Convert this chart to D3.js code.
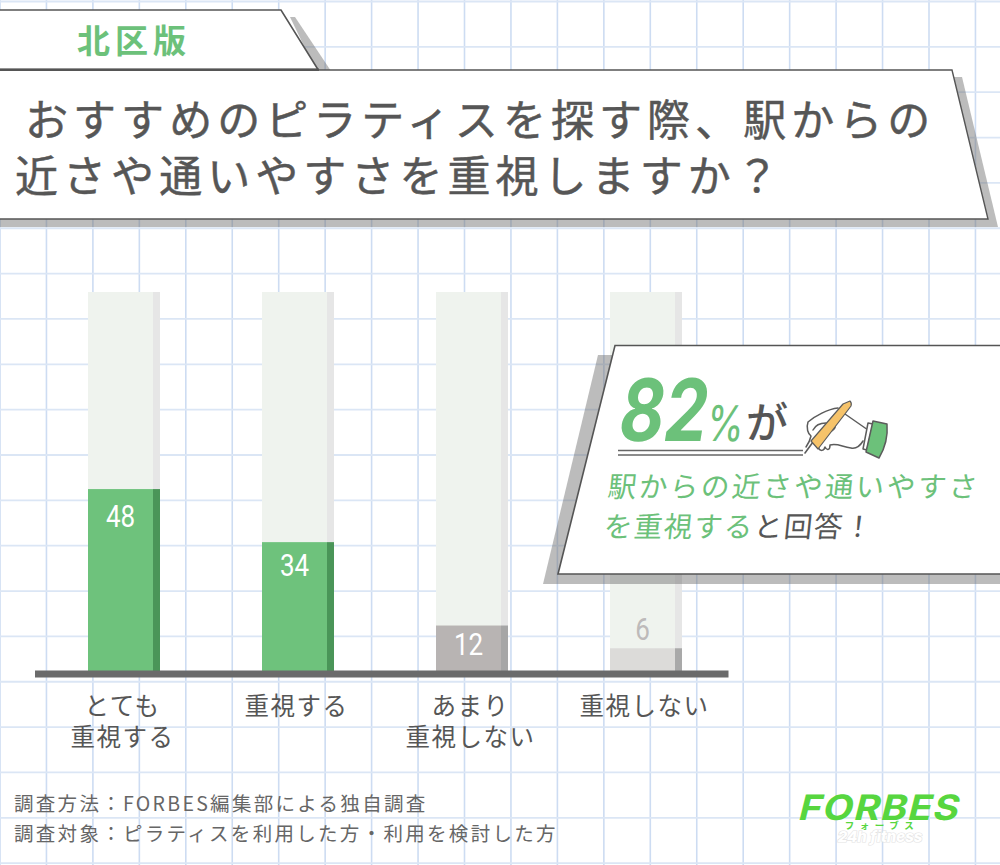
<!DOCTYPE html>
<html>
<head>
<meta charset="utf-8">
<script src="https://cdn.jsdelivr.net/npm/d3@7"></script>
<style>
    html, body { margin: 0; padding: 0; background: #fff; }
    svg { display: block; }
    text { font-family: "Noto Sans CJK JP", sans-serif; }
</style>
</head>
<body>
<div id="chart"></div>
<script>
// chart data
var categories = ["とても\n重視する", "重視する", "あまり\n重視しない", "重視しない"];
var values = [48, 34, 12, 6];
var maxValue = 100;

var titleLines = ["おすすめのピラティスを探す際、駅からの", "近さや通いやすさを重視しますか？"];
var tabLabel = "北区版";
var footnotes = ["調査方法：FORBES編集部による独自調査", "調査対象：ピラティスを利用した方・利用を検討した方"];

// colours, same order as the bars
var barColors = ["#6ec27c", "#6ec27c", "#b8b4b3", "#dcdbd9"];
var barSideColors = ["#4a9558", "#4a9558", "#a6a6a6", "#a9a9a9"];
var valueColors = ["#fff", "#fff", "#fff", "#bdbaba"];
var valueOffsets = [27, 23, 18, -19]; // label centre below the bar top

var green = "#6cc17a";
var ink = "#565656";
var w = 1000;
var h = 865;

var svg = d3.select("#chart").append("svg")
    .attr("width", w)
    .attr("height", h);

// graph paper background
var grid = svg.append("g").attr("fill", "none");
d3.range(0, 22).forEach(function (i) {
    grid.append("line")
        .attr("x1", i * 46.45).attr("x2", i * 46.45)
        .attr("y1", 0).attr("y2", h)
        .attr("stroke", "#cddcf2").attr("stroke-width", 1.6);
});
d3.range(0, 20).forEach(function (i) {
    grid.append("line")
        .attr("x1", 0).attr("x2", w)
        .attr("y1", 1.5 + i * 45.35).attr("y2", 1.5 + i * 45.35)
        .attr("stroke", "#dbe6f5").attr("stroke-width", 1.8);
});

// scales
var x = d3.scaleBand()
    .domain(categories)
    .range([88, 682])
    .paddingInner(102 / 174)
    .paddingOuter(0);
var y = d3.scaleLinear()
    .domain([0, maxValue])
    .range([671, 292]);

var sideW = 7;
var bars = svg.selectAll(".bar")
    .data(categories)
    .enter()
    .append("g")
    .attr("class", "bar");

// background track
bars.append("rect")
    .attr("x", function (d) { return x(d); })
    .attr("y", y(maxValue))
    .attr("width", x.bandwidth() - sideW)
    .attr("height", y(0) - y(maxValue))
    .attr("fill", "#eff3ee");
bars.append("rect")
    .attr("x", function (d) { return x(d) + x.bandwidth() - sideW; })
    .attr("y", y(maxValue))
    .attr("width", sideW)
    .attr("height", y(0) - y(maxValue))
    .attr("fill", "#e6e6e6");

// value bar
bars.append("rect")
    .attr("x", function (d) { return x(d); })
    .attr("y", function (d, i) { return y(values[i]); })
    .attr("width", x.bandwidth() - sideW)
    .attr("height", function (d, i) { return y(0) - y(values[i]); })
    .attr("fill", function (d, i) { return barColors[i]; });
bars.append("rect")
    .attr("x", function (d) { return x(d) + x.bandwidth() - sideW; })
    .attr("y", function (d, i) { return y(values[i]); })
    .attr("width", sideW)
    .attr("height", function (d, i) { return y(0) - y(values[i]); })
    .attr("fill", function (d, i) { return barSideColors[i]; });

// values, squeezed a bit to get the narrow digits of the original
bars.append("text")
    .attr("transform", function (d, i) {
        return "translate(" + (x(d) + (x.bandwidth() - sideW) / 2) + "," + (y(values[i]) + valueOffsets[i] + 11) + ") scale(0.84,1)";
    })
    .attr("text-anchor", "middle")
    .attr("fill", function (d, i) { return valueColors[i]; })
    .style("font-family", "Roboto")
    .style("font-size", "31px")
    .text(function (d, i) { return values[i]; });

// baseline
svg.append("rect")
    .attr("x", 35).attr("y", 670.5)
    .attr("width", 693.5).attr("height", 7)
    .attr("fill", "#6b6b6b");

// category labels
bars.each(function (d) {
    var g = d3.select(this);
    d.split("\n").forEach(function (line, i) {
        g.append("text")
            .attr("x", x(d) + x.bandwidth() / 2 - 1.5)
            .attr("y", 715 + i * 31)
            .attr("text-anchor", "middle")
            .attr("fill", ink)
            .style("font-size", "24.5px")
            .style("letter-spacing", "1.5px")
            .text(line);
    });
});

// footnotes
svg.selectAll(".note")
    .data(footnotes)
    .enter()
    .append("text")
    .attr("class", "note")
    .attr("x", 14)
    .attr("y", function (d, i) { return 811 + i * 30; })
    .attr("fill", "#666")
    .style("font-size", "19.5px")
    .style("letter-spacing", "2.3px")
    .text(function (d) { return d; });

// logo
var logo = svg.append("g");
logo.append("text")
    .attr("transform", "translate(797,820) skewX(-14) scale(1.12,1)")
    .attr("fill", "#57d63f")
    .style("font-family", "Inter")
    .style("font-weight", 700)
    .style("font-size", "35px")
    .style("letter-spacing", "1px")
    .text("FORBES");
logo.append("text")
    .attr("x", 882).attr("y", 829)
    .attr("text-anchor", "middle")
    .attr("fill", "#57d63f")
    .style("font-size", "9.5px")
    .style("font-weight", 700)
    .style("letter-spacing", "5.5px")
    .text("フォーブス");
logo.append("text")
    .attr("x", 880).attr("y", 842)
    .attr("text-anchor", "middle")
    .attr("fill", "#fff")
    .attr("stroke", "#e3e3e3")
    .attr("stroke-width", 1.2)
    .attr("paint-order", "stroke")
    .style("font-family", "Inter")
    .style("font-style", "italic")
    .style("font-weight", 800)
    .style("font-size", "15px")
    .text("24h fitness");

// header panels
var shadow = "rgba(110,110,110,0.46)";
var poly = d3.line();

svg.append("path")
    .attr("d", poly([[290, 17], [295, 17], [331, 71], [316, 71]]) + "Z")
    .attr("fill", shadow);
svg.append("path")
    .attr("d", poly([[-2, 10], [281, 10], [318, 69.5], [-2, 69.5]]) + "Z")
    .attr("fill", "#fff")
    .attr("stroke", "#555")
    .attr("stroke-width", 1.6);
svg.append("text")
    .attr("x", 77).attr("y", 53)
    .attr("fill", green)
    .style("font-size", "33px")
    .style("font-weight", 700)
    .style("letter-spacing", "5px")
    .text(tabLabel);

svg.append("path")
    .attr("d", poly([[940, 77], [962, 77], [998, 227], [-2, 227], [-2, 210]]) + "Z")
    .attr("fill", shadow);
svg.append("path")
    .attr("d", poly([[-2, 70], [952, 70], [988, 219], [-2, 219]]) + "Z")
    .attr("fill", "#fff")
    .attr("stroke", "#555")
    .attr("stroke-width", 1.4);
svg.append("rect")
    .attr("x", 0).attr("y", 68.5)
    .attr("width", 319).attr("height", 2.5)
    .attr("fill", "#555");

svg.selectAll(".title")
    .data(titleLines)
    .enter()
    .append("text")
    .attr("class", "title")
    .attr("x", function (d, i) { return i == 0 ? 25 : 15; })
    .attr("y", function (d, i) { return 136 + i * 56; })
    .attr("fill", ink)
    .attr("stroke", ink)
    .attr("stroke-width", 0.5)
    .style("font-size", "43px")
    .style("letter-spacing", "5.05px")
    .text(function (d) { return d; });

// callout
svg.append("path")
    .attr("d", poly([[598, 355], [1002, 355], [1002, 584], [543, 584]]) + "Z")
    .attr("fill", shadow);
svg.append("path")
    .attr("d", poly([[615, 345.5], [1002, 345.5], [1002, 574], [558, 574]]) + "Z")
    .attr("fill", "#fff")
    .attr("stroke", "#555")
    .attr("stroke-width", 1.6);

svg.append("text")
    .attr("transform", "translate(616,441) skewX(-9) scale(0.8,1)")
    .attr("fill", green)
    .style("font-family", "Inter")
    .style("font-weight", 700)
    .style("font-size", "86px")
    .text("82");
svg.append("text")
    .attr("transform", "translate(705,441) skewX(-6) scale(0.78,1)")
    .attr("fill", green)
    .style("font-family", "Inter")
    .style("font-weight", 400)
    .style("font-size", "49px")
    .text("%");
svg.append("text")
    .attr("transform", "translate(746,438)")
    .attr("fill", ink)
    .style("font-size", "42px")
    .style("font-weight", 500)
    .text("が");

[450.5, 455].forEach(function (ly) {
    svg.append("line")
        .attr("x1", 618).attr("x2", 803)
        .attr("y1", ly).attr("y2", ly)
        .attr("stroke", "#666").attr("stroke-width", 1.3);
});

// hand holding the pen
var hand = svg.append("g")
    .attr("fill", "none")
    .attr("stroke", "#5c5c5c")
    .attr("stroke-width", 1.5)
    .attr("stroke-linejoin", "round")
    .attr("stroke-linecap", "round");
hand.append("path")
    .attr("d", "M838,408 C828,409 815,416 808,422 C806,428 808,434 811,436 C810,441 808,444 806,447")
    .attr("fill", "#fff");
hand.append("path")
    .attr("d", "M818,447 C820,452 824,451 825,447 C827,451 830,450 830,445 C838,443 842,447 851,448 C856,449 860,446 863,441");
hand.append("path").attr("d", "M845,414 L868,430");
hand.append("path").attr("d", "M813,430 C816,424 822,423 826,423 M830,432 C834,430 836,428 835,425");
hand.append("path")
    .attr("d", "M868,423 L873,424 L867,450 L863,449 Z")
    .attr("fill", "#fff");
hand.append("path")
    .attr("d", "M873,421 L887,424 C888,436 885,448 879,458 L866,452 Z")
    .attr("fill", green);
hand.append("path").attr("d", "M805,453 L813,442").attr("stroke-width", 1.6);
hand.append("path")
    .attr("d", "M811,441 L843,404 L850,401 Q852,403 851,406 L848,410 L818,449 Z")
    .attr("fill", "#f6c36a")
    .attr("stroke-width", 1.2);

// callout message, green runs then dark
var msg1 = svg.append("text")
    .attr("transform", "translate(607,497) skewX(-6)")
    .attr("fill", green)
    .style("font-size", "28.5px")
    .style("letter-spacing", "2.5px")
    .text("駅からの近さや通いやすさ");
var msg2 = svg.append("text")
    .attr("transform", "translate(603,537) skewX(-6)")
    .attr("fill", green)
    .style("font-size", "28.5px")
    .style("letter-spacing", "1.5px");
msg2.append("tspan").text("を重視する");
msg2.append("tspan").attr("fill", ink).text("と回答！");
</script>
</body>
</html>
